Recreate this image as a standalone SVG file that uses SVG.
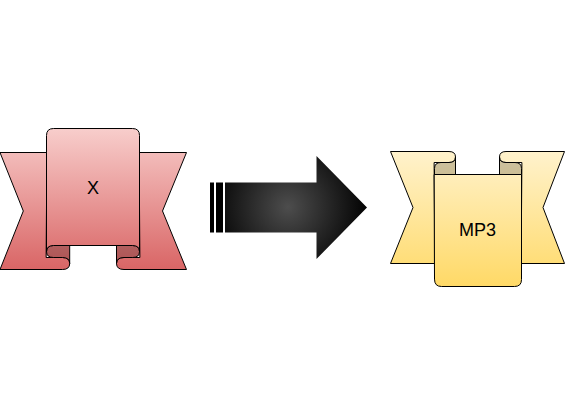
<svg xmlns="http://www.w3.org/2000/svg" width="565" height="415" viewBox="0 0 565 415">
<style>
.o{stroke:#000;stroke-width:1;stroke-linejoin:round;stroke-linecap:round}
.d{fill:#000;fill-opacity:.2;stroke:#000;stroke-width:1}
.t{font-family:"Liberation Sans",Arial,sans-serif;font-size:18px;fill:#000;text-anchor:middle}
</style>
<defs>
<linearGradient id="r" gradientUnits="userSpaceOnUse" x1="0" y1="128" x2="0" y2="270"><stop offset="0" stop-color="#f8cecc"/><stop offset="1" stop-color="#d96565"/></linearGradient>
<linearGradient id="y" gradientUnits="userSpaceOnUse" x1="0" y1="152" x2="0" y2="287"><stop offset="0" stop-color="#fff2cc"/><stop offset="1" stop-color="#ffd966"/></linearGradient>
<radialGradient id="a" gradientUnits="userSpaceOnUse" cx="288" cy="207" r="82"><stop offset="0" stop-color="#4d4d4d"/><stop offset="1" stop-color="#000"/></radialGradient>
</defs>
<g id="node-x">
<path class="o" fill="url(#r)" d="M46.5 152.5H0L23.3 211 0 269.5H62.5Q69.7 269.5 69.7 263.5 69.7 257.5 62.5 257.5H46.5ZM139.5 152.5H186.5L162.5 211 186.5 269.5H124Q116.5 269.5 116.5 263.5 116.5 257.5 124 257.5H139.5Z"/>
<path fill="url(#r)" d="M69.7 245.5H53.5Q46.5 245.5 46.5 251.5 46.5 257.5 53.5 257.5H62.5Q69.7 257.5 69.7 263.5ZM116.5 245.5H132.5Q139.5 245.5 139.5 251.5 139.5 257.5 132.5 257.5H124Q116.5 257.5 116.5 263.5Z"/>
<path class="d" d="M69.7 245.5H53.5Q46.5 245.5 46.5 251.5 46.5 257.5 53.5 257.5H62.5Q69.7 257.5 69.7 263.5ZM116.5 245.5H132.5Q139.5 245.5 139.5 251.5 139.5 257.5 132.5 257.5H124Q116.5 257.5 116.5 263.5Z"/>
<path class="o" fill="url(#r)" d="M46.5 251.5V135.5Q46.5 128.5 53.5 128.5H132.5Q139.5 128.5 139.5 135.5V251.5Q139.5 245.5 132.5 245.5H53.5Q46.5 245.5 46.5 251.5Z"/>
<text class="t" x="93" y="194">X</text>
</g>
<g id="node-mp3">
<path class="o" fill="url(#y)" d="M434.5 263.5H390.5L413 207.5 390.5 151.5H449Q455.5 151.5 455.5 157 455.5 162.5 449 162.5H434.5ZM521.5 263.5H564.5L543 207.5 564.5 151.5H506Q499.5 151.5 499.5 157 499.5 162.5 506 162.5H521.5Z"/>
<path fill="url(#y)" d="M455.5 174.5H434.5V168.5Q434.5 162.5 441 162.5H449Q455.5 162.5 455.5 157ZM499.5 174.5H521.5V168.5Q521.5 162.5 515 162.5H506Q499.5 162.5 499.5 157Z"/>
<path class="d" d="M455.5 174.5H434.5V168.5Q434.5 162.5 441 162.5H449Q455.5 162.5 455.5 157ZM499.5 174.5H521.5V168.5Q521.5 162.5 515 162.5H506Q499.5 162.5 499.5 157Z"/>
<path class="o" fill="url(#y)" d="M434.5 174.5H521.5V279.5Q521.5 286.5 514.5 286.5H441.5Q434.5 286.5 434.5 279.5Z"/>
<text class="t" x="477.5" y="236">MP3</text>
</g>
<g id="connectors">
<path fill="url(#a)" d="M225 182.5H316.5V156L367 207.5 316.5 259V232.5H225Z"/>
<rect x="210" y="182.5" width="4" height="50" fill="#000"/>
<rect x="216" y="182.5" width="7" height="50" fill="#000"/>
</g>
</svg>
